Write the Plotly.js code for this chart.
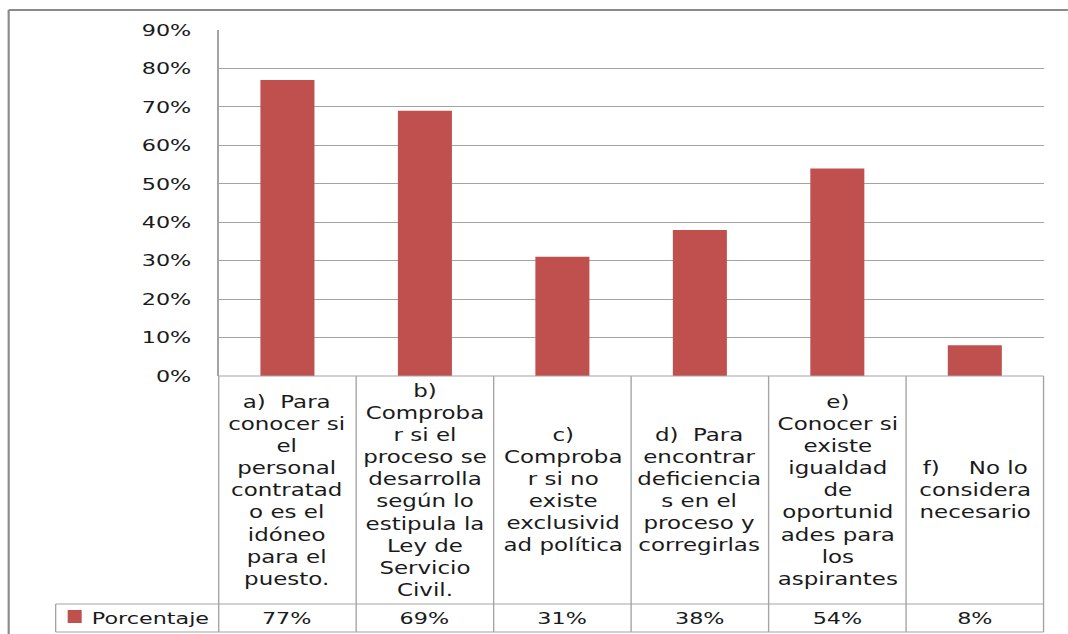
<!DOCTYPE html>
<html>
<head>
<meta charset="utf-8">
<script src="https://cdn.plot.ly/plotly-3.0.1.min.js"></script>
<style>
  html, body { margin: 0; padding: 0; background: #ffffff; overflow: hidden; }
  /* the chart is laid out narrow and widened horizontally */
  #chart { width: 791px; height: 634px; transform: scaleX(1.35); transform-origin: 0 0; }
</style>
</head>
<body>
<div id="chart"></div>
<script>
// Category labels, one entry per line as they wrap in the table cells
const categoryLines = [
  ["a)\u00a0\u00a0Para", "conocer si", "el", "personal", "contratad", "o es el", "idóneo", "para el", "puesto."],
  ["b)", "Comproba", "r si el", "proceso se", "desarrolla", "según lo", "estipula la", "Ley de", "Servicio", "Civil."],
  ["c)", "Comproba", "r si no", "existe", "exclusivid", "ad política"],
  ["d)\u00a0\u00a0Para", "encontrar", "deficiencia", "s en el", "proceso y", "corregirlas"],
  ["e)", "Conocer si", "existe", "igualdad", "de", "oportunid", "ades para", "los", "aspirantes"],
  ["f)\u00a0\u00a0\u00a0\u00a0No lo", "considera", "necesario"]
];
const seriesName = "Porcentaje";
const values = [77, 69, 31, 38, 54, 8];
const yTicks = [0, 10, 20, 30, 40, 50, 60, 70, 80, 90];

const FONT = "DejaVu Sans";
const TEXT = "#1a1a1a";
const GRID = "#a3a3a3";
const BAR = "#C0504D";

// figure geometry (pre-stretch pixels)
const figW = 791, figH = 634;
const plotL = 161.5, plotR = 772.6, plotT = 30, plotB = 376;
const plotW = plotR - plotL, plotH = plotB - plotT;
const px = x => (x - plotL) / plotW;       // pixel x -> paper x
const py = y => (plotB - y) / plotH;       // pixel y -> paper y

const n = values.length;
const xIdx = values.map((_, i) => i);
const labelRowBottom = 604, valueRowBottom = 632;
const legendLeft = 40.7;

const shapes = [];
const line = (x0, y0, x1, y1, color, width) =>
  shapes.push({type: "line", xref: "paper", yref: "paper", x0, y0, x1, y1,
               line: {color, width}, layer: "above"});

// table grid below the plot
for (let k = 0; k <= n; k++) {
  const x = k / n;
  line(x, py(plotB), x, py(valueRowBottom), GRID, 1);
}
line(0, py(plotB), 1, py(plotB), GRID, 1);
line(px(legendLeft), py(labelRowBottom), 1, py(labelRowBottom), GRID, 1);
line(px(legendLeft), py(valueRowBottom), 1, py(valueRowBottom), GRID, 1);
line(px(legendLeft), py(labelRowBottom), px(legendLeft), py(valueRowBottom), GRID, 1);

// legend key swatch
shapes.push({type: "rect", xref: "paper", yref: "paper",
  x0: px(49.6), x1: px(60), y0: py(610), y1: py(623),
  fillcolor: BAR, line: {width: 0}, layer: "above"});

// chart area frame (left and top edges)
line(px(5.9), py(10), px(800), py(10), "#8a8a8a", 2);
line(px(5.9), py(10), px(5.9), py(700), "#8a8a8a", 1.6);

const annotations = [];
xIdx.forEach(i => {
  annotations.push({
    xref: "paper", yref: "paper", x: (i + 0.5) / n, y: py((plotB + labelRowBottom) / 2),
    xanchor: "center", yanchor: "middle", align: "center", showarrow: false,
    text: categoryLines[i].join("<br>"),
    font: {family: FONT, size: 17, color: TEXT}
  });
  annotations.push({
    xref: "paper", yref: "paper", x: (i + 0.5) / n, y: py((labelRowBottom + valueRowBottom) / 2),
    xanchor: "center", yanchor: "middle", showarrow: false,
    text: values[i] + "%",
    font: {family: FONT, size: 16.5, color: TEXT}
  });
});
annotations.push({
  xref: "paper", yref: "paper", x: px(65.2), y: py((labelRowBottom + valueRowBottom) / 2),
  xanchor: "left", yanchor: "middle", showarrow: false,
  text: seriesName, font: {family: FONT, size: 16.5, color: TEXT}
});

const trace = {
  type: "bar", name: seriesName, x: xIdx, y: values,
  marker: {color: BAR, line: {width: 0}},
  hoverinfo: "none", showlegend: false
};

const layout = {
  width: figW, height: figH,
  margin: {l: plotL, r: figW - plotR, t: plotT, b: figH - plotB, pad: 0},
  paper_bgcolor: "#ffffff", plot_bgcolor: "#ffffff",
  bargap: 0.607,
  showlegend: false,
  xaxis: {range: [-0.5, n - 0.5], showticklabels: false, showgrid: false,
          zeroline: false, showline: false, ticks: "", fixedrange: true},
  yaxis: {range: [0, 90], tickvals: yTicks, ticktext: yTicks.map(v => v + "%"),
          showgrid: true, gridcolor: GRID, gridwidth: 1,
          showline: true, linecolor: GRID, linewidth: 1, zeroline: false,
          ticks: "outside", ticklen: 16, tickcolor: "rgba(0,0,0,0)",
          tickfont: {family: FONT, size: 16.5, color: TEXT}, fixedrange: true},
  shapes, annotations
};

Plotly.newPlot("chart", [trace], layout, {displayModeBar: false, staticPlot: true});
</script>
</body>
</html>
